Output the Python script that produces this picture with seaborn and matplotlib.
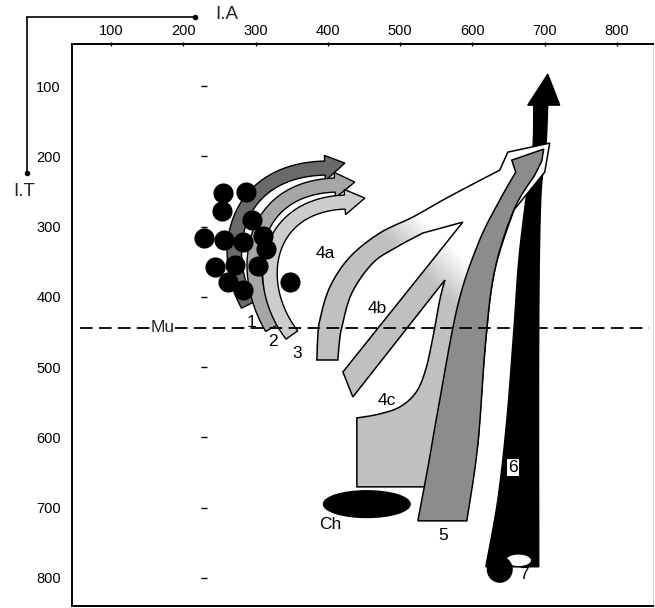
import numpy as np
import matplotlib
matplotlib.use("Agg")
import matplotlib.pyplot as plt
import seaborn as sns
import pandas as pd
from matplotlib.patches import Polygon, Ellipse
from matplotlib.colors import LinearSegmentedColormap

sns.set_theme(style="white")
plt.rcParams['font.family'] = ['Liberation Sans', 'DejaVu Sans']

# ---------------- data ----------------
ia_ticks = [100, 200, 300, 400, 500, 600, 700, 800]
it_ticks = [100, 200, 300, 400, 500, 600, 700, 800]
inner_mark_ia = 228

dot_ia = [255, 287, 254, 228, 257, 295, 283, 310, 314, 244, 272, 303, 262, 283, 348]
dot_it = [252, 250, 278, 316, 319, 291, 322, 313, 332, 358, 355, 356, 379, 390, 379]

mu_it = 444
mu_ia_range = [57, 845]

# curved arrows 1-3 : 4 bezier control points + head tip (I.A, I.T)
arrow1_ia = [289.5, 248.0, 271.5, 396.0, 423.6]
arrow1_it = [411.5, 333.3, 219.5, 216.6, 209.5]
arrow2_ia = [322.7, 275.6, 292.2, 409.8, 437.4]
arrow2_it = [444.3, 361.7, 245.1, 240.8, 236.5]
arrow3_ia = [350.3, 295.0, 313.0, 423.6, 451.3]
arrow3_it = [454.2, 380.2, 269.3, 265.0, 259.3]

# big arrow 4 (4a, 4b, 4c): edges, each (I.A list, I.T list, smooth?)
a4_outer_ia = [384.9, 386.0, 389.0, 402.9, 430.5, 472.0, 517.7, 559.2, 603.4, 638.0]
a4_outer_it = [489.8, 460.0, 432.9, 385.9, 343.3, 309.1, 286.3, 262.2, 238.0, 219.5]
a4_head_ia = [649.1, 707.1, 700.2]
a4_head_it = [193.9, 181.1, 222.4]
a4_right_ia = [657.4, 631.1, 618.6, 607.6]
a4_right_it = [276.4, 361.7, 461.3, 610.7]
a4_box_ia = [534.3, 440.2]
a4_box_it = [670.4, 670.4]
a4c_ia = [440.2, 470.0, 499.7, 522.0, 535.0, 545.0, 555.0, 562.0]
a4c_it = [572.3, 567.0, 556.6, 536.0, 505.0, 460.0, 404.4, 376.0]
a4b_ia = [434.7, 420.9, 586.9]
a4b_it = [542.4, 506.9, 293.5]
a4_inner_ia = [531.5, 495.5, 462.3, 433.3, 419.5, 416.0, 413.9]
a4_inner_it = [309.1, 329.0, 351.8, 394.5, 442.8, 465.0, 489.8]

# arrow 5: left edge (bottom->top), head, right edge (top->bottom)
a5_left_ia = [524.6, 539.0, 553.7, 580.0, 609.0, 638.0, 660.1]
a5_left_it = [718.8, 640.0, 553.8, 411.5, 321.9, 262.2, 222.4]
a5_head_ia = [654.6, 698.8, 696.1]
a5_head_it = [205.3, 189.6, 206.7]
a5_right_ia = [686.4, 657.4, 631.1, 618.6, 607.6, 592.4]
a5_right_it = [226.6, 276.4, 361.7, 461.3, 610.7, 718.8]

# arrow 6 (black): right edge (bottom->top), head, left edge (top->bottom)
a6_right_ia = [691.9, 691.9, 694.7, 701.6, 704.4]
a6_right_it = [784.2, 447.1, 262.2, 191.0, 127.0]
a6_head_ia = [720.9, 704.4, 676.7]
a6_head_it = [127.0, 82.9, 127.0]
a6_left_ia = [685.0, 683.6, 674.0, 664.3, 657.4, 647.7, 635.2, 618.6]
a6_left_it = [127.0, 191.0, 262.2, 347.5, 447.1, 575.2, 688.9, 784.2]

curl7_center = (638, 788)
curl7_white = (664, 775)
ch_center = (454, 695)

labels = ["1", "2", "3", "4a", "4b", "4c", "5", "6", "7", "Ch"]
label_ia = [295, 324, 357, 396, 468, 482, 559, 656, 672, 403]
label_it = [436, 464, 480, 338, 416, 547, 739, 643, 795, 724]

# ---------------- helpers ----------------
def catmull(xs, ys, n=14):
    P = np.column_stack([xs, ys]).astype(float)
    if len(P) < 3:
        return P
    out = []
    for i in range(len(P) - 1):
        p0 = P[max(i - 1, 0)]
        p1 = P[i]
        p2 = P[i + 1]
        p3 = P[min(i + 2, len(P) - 1)]
        t = np.linspace(0, 1, n, endpoint=False)[:, None]
        seg = 0.5 * ((2 * p1) + (-p0 + p2) * t + (2 * p0 - 5 * p1 + 4 * p2 - p3) * t ** 2
                     + (-p0 + 3 * p1 - 3 * p2 + p3) * t ** 3)
        out.append(seg)
    out.append(P[-1:])
    return np.vstack(out)


def straight(xs, ys):
    return np.column_stack([xs, ys]).astype(float)


def bezier(xs, ys, n=80):
    t = np.linspace(0, 1, n)[:, None]
    P = np.column_stack([xs[:4], ys[:4]])
    return ((1 - t) ** 3) * P[0] + 3 * ((1 - t) ** 2) * t * P[1] + 3 * (1 - t) * t ** 2 * P[2] + t ** 3 * P[3]


def band_arrow(xs, ys, hw=10.0, hh=18.0):
    C = bezier(xs, ys)
    d = np.gradient(C, axis=0)
    d /= np.linalg.norm(d, axis=1)[:, None]
    N = np.column_stack([-d[:, 1], d[:, 0]])
    left = C + hw * N
    right = C - hw * N
    base = C[-1]
    nb = N[-1]
    tip = np.array([xs[4], ys[4]])
    return np.vstack([left, [base + hh * nb], [tip], [base - hh * nb], right[::-1]])


# ---------------- figure ----------------
fig = plt.figure(figsize=(6.55, 6.08), dpi=100)
ax = fig.add_axes([0.1099, 0.0033, 0.887, 0.9243])

# arrow 6 black
pts6 = np.vstack([catmull(a6_right_ia, a6_right_it), straight(a6_head_ia, a6_head_it),
                  catmull(a6_left_ia, a6_left_it)])
ax.add_patch(Polygon(pts6, closed=True, facecolor='black', edgecolor='black', lw=1, zorder=2))
ax.add_patch(Ellipse(curl7_white, 36, 18, facecolor='white', edgecolor='black', lw=0.8, zorder=2.5))
ax.add_patch(Ellipse(curl7_center, 34, 36, facecolor='black', edgecolor='black', zorder=2.6))

# big arrow 4 with fading stipple
pts4 = np.vstack([catmull(a4_outer_ia, a4_outer_it), straight(a4_head_ia, a4_head_it),
                  catmull(a4_right_ia, a4_right_it), straight(a4_box_ia, a4_box_it),
                  catmull(a4c_ia, a4c_it), straight(a4b_ia, a4b_it),
                  catmull(a4_inner_ia, a4_inner_it)])
p4 = Polygon(pts4, closed=True, facecolor='white', edgecolor='none', zorder=3)
ax.add_patch(p4)
gx = np.linspace(370, 720, 300)
gy = np.linspace(170, 680, 400)
GX, GY = np.meshgrid(gx, gy)
frac = np.clip(((GX - GY) - 165) / 80.0, 0, 1)
cmap4 = LinearSegmentedColormap.from_list('st', ['#c0c0c0', '#ffffff'])
im = ax.imshow(frac, cmap=cmap4, extent=(370, 720, 170, 680), origin='lower',
               aspect='auto', zorder=3.1, interpolation='bilinear')
im.set_clip_path(p4)
ax.add_patch(Polygon(pts4, closed=True, fill=False, edgecolor='black', lw=1.1, zorder=3.2))

# arrow 5
pts5 = np.vstack([catmull(a5_left_ia, a5_left_it), straight(a5_head_ia, a5_head_it),
                  catmull(a5_right_ia, a5_right_it)])
ax.add_patch(Polygon(pts5, closed=True, facecolor='#8c8c8c', edgecolor='black', lw=1.1, zorder=4))

# Ch ellipse
ax.add_patch(Ellipse(ch_center, 120, 38, facecolor='black', edgecolor='black', zorder=4))

# arrows 1-3
for xs, ys, col, z in [(arrow1_ia, arrow1_it, '#6a6a6a', 5),
                       (arrow2_ia, arrow2_it, '#a6a6a6', 5.2),
                       (arrow3_ia, arrow3_it, '#cdcdcd', 5.4)]:
    ax.add_patch(Polygon(band_arrow(xs, ys), closed=True, facecolor=col,
                         edgecolor='black', lw=1.0, zorder=z))

# dots
dots = pd.DataFrame({'ia': dot_ia, 'it': dot_it})
sns.scatterplot(data=dots, x='ia', y='it', ax=ax, s=210, color='black',
                edgecolor='black', linewidth=0, zorder=6, legend=False)

# inner tick-like dashes
ax.scatter([inner_mark_ia] * len(it_ticks), it_ticks, marker='_', s=18,
           color='black', linewidths=1.0, zorder=6)

# Mu line
ax.plot(mu_ia_range, [mu_it, mu_it], color='black', lw=1.3,
        linestyle=(0, (7.0, 3.5)), zorder=7)
ax.text(172, mu_it, "Mu", fontsize=12.5, ha='center', va='center', zorder=8,
        bbox=dict(facecolor='white', edgecolor='none', pad=0.3))

# labels
for lab, x, y in zip(labels, label_ia, label_it):
    kw = {}
    if lab == "6":
        kw['bbox'] = dict(facecolor='white', edgecolor='none', pad=1.0)
    ax.text(x, y, lab, fontsize=12.5, ha='center', va='center', zorder=9,
            color='black', **kw)

# axes
ax.set_xlim(46, 850)
ax.set_ylim(840, 40)
ax.xaxis.tick_top()
ax.set_xticks(ia_ticks)
ax.set_yticks(it_ticks)
ax.tick_params(axis='x', which='both', top=True, bottom=False, length=3,
               direction='inout', width=1, labelsize=10.5, pad=3, colors='black')
ax.tick_params(axis='y', which='both', left=False, length=0, labelsize=10.5,
               pad=8, colors='black')
ax.set_xlabel('')
ax.set_ylabel('')
for s in ['top', 'left', 'bottom']:
    ax.spines[s].set_visible(True)
    ax.spines[s].set_color('black')
    ax.spines[s].set_linewidth(1.4)
ax.spines['right'].set_visible(True)
ax.spines['right'].set_color('#d8d8d8')
ax.spines['right'].set_linewidth(0.8)

# outer axis arrows (I.A, I.T)
ax.plot([-16.2, 216.4], [1.8, 1.8], color='black', lw=1.2, clip_on=False, zorder=10)
ax.plot([216.4], [1.8], 'o', color='black', ms=3, clip_on=False, zorder=10)
ax.plot([-16.2, -16.2], [1.8, 223.8], color='black', lw=1.2, clip_on=False, zorder=10)
ax.plot([-16.2], [223.8], 'o', color='black', ms=3, clip_on=False, zorder=10)
ax.text(260, -2, "I.A", fontsize=13.5, ha='center', va='center', clip_on=False)
ax.text(-20, 250, "I.T", fontsize=13.5, ha='center', va='center', clip_on=False)

fig.savefig("out.png", dpi=100)
